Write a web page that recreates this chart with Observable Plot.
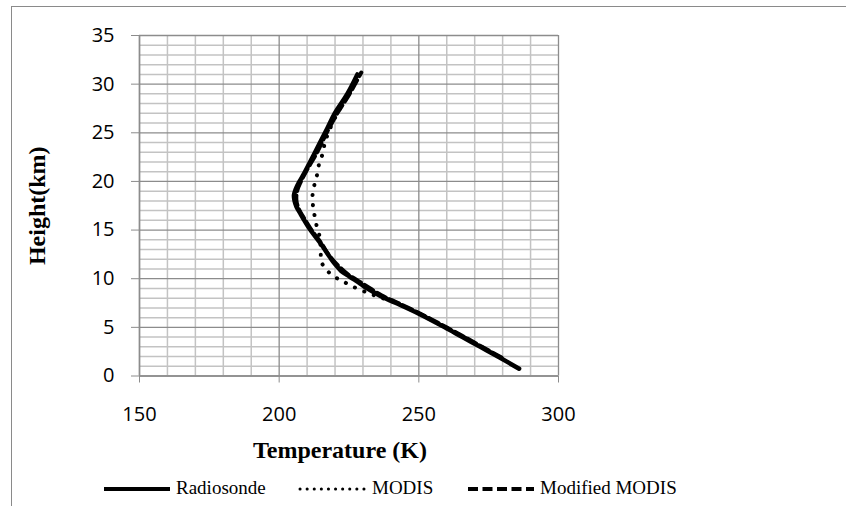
<!DOCTYPE html>
<html>
<head>
<meta charset="utf-8">
<script src="https://cdn.jsdelivr.net/npm/d3@7"></script>
<script src="https://cdn.jsdelivr.net/npm/@observablehq/plot@0.6"></script>
<style>
  html, body { margin: 0; padding: 0; background: #fff; width: 846px; height: 506px; overflow: hidden; }
  #frame { position: absolute; left: 11px; top: 6px; width: 900px; height: 600px;
           border-left: 1px solid #8a8a8a; border-top: 1px solid #8a8a8a; }
  #chart { position: absolute; left: 0; top: 0; }
  #legend { position: absolute; left: 0; top: 475px; }
</style>
</head>
<body>
<div id="frame"></div>
<div id="chart"></div>
<div id="legend"></div>
<script>
// Axis ticks
const xTicks = [150, 200, 250, 300];
const yTicks = [0, 5, 10, 15, 20, 25, 30, 35];

// Radiosonde profile
const radioHeight = [0.75, 2.0, 3.0, 4.0, 5.0, 6.4, 7.5, 8.2, 9.0, 9.5, 10.2, 10.8, 11.5, 12.2, 13.6, 15.0, 16.0, 16.7, 17.4, 18.0, 18.6, 19.2, 20.0, 20.8, 22.8, 25.5, 27.0, 29.0, 31.0];
const radioTemp   = [285.9, 278.3, 272.0, 265.6, 259.3, 250.0, 241.8, 236.4, 231.5, 229.0, 225.3, 222.2, 220.0, 218.2, 214.9, 211.2, 209.0, 207.6, 206.2, 205.5, 205.3, 205.9, 207.3, 208.9, 212.5, 217.3, 219.9, 224.4, 228.0];

// MODIS retrieval
const modisHeight = [1.9, 3.0, 4.0, 5.0, 6.4, 7.5, 7.9, 8.3, 8.7, 9.3, 9.8, 10.3, 11.0, 11.8, 12.6, 13.4, 14.2, 15.2, 16.3, 17.3, 18.4, 19.5, 20.6, 21.8, 22.8, 23.9, 25.0, 27.0, 29.0, 31.0];
const modisTemp   = [279.2, 272.4, 266.2, 259.6, 250.2, 242.0, 238.0, 234.0, 230.4, 225.6, 222.4, 219.2, 216.7, 215.0, 214.9, 214.8, 214.6, 213.6, 212.8, 212.2, 211.9, 212.5, 213.5, 214.3, 215.5, 216.3, 217.6, 220.8, 225.0, 228.4];

// Modified MODIS retrieval
const modHeight = [1.9, 3.0, 4.0, 5.0, 6.4, 7.5, 8.3, 9.5, 10.5, 11.5, 12.5, 13.6, 15.0, 16.0, 17.0, 18.0, 19.0, 20.0, 21.0, 23.0, 25.0, 27.0, 29.0, 31.2];
const modTemp   = [279.6, 272.6, 266.4, 259.9, 250.6, 242.6, 236.6, 229.9, 224.4, 220.6, 217.6, 215.2, 211.6, 209.4, 207.3, 206.2, 206.4, 207.8, 209.6, 213.6, 217.0, 220.8, 225.2, 229.4];

const seriesNames = ["Radiosonde", "MODIS", "Modified MODIS"];

const toRows = (hs, ts) => hs.map((h, i) => ({h, t: ts[i]}));
const radiosonde = toRows(radioHeight, radioTemp);
const modis = toRows(modisHeight, modisTemp);
const modified = toRows(modHeight, modTemp);

const serif = "'Liberation Serif', 'Times New Roman', serif";
const gridMinor = "#c3c3c3";
const gridMajor = "#8c8c8c";

const xMinor = d3.range(xTicks[0], xTicks[xTicks.length - 1] + 1, 10).filter(v => !xTicks.includes(v));
const yMinor = d3.range(yTicks[0], yTicks[yTicks.length - 1] + 1, 1).filter(v => !yTicks.includes(v));

const chart = Plot.plot({
  width: 846,
  height: 470,
  marginLeft: 139,
  marginRight: 288,
  marginTop: 35,
  marginBottom: 94.5,
  style: {background: "transparent", fontFamily: "'Open Sans', sans-serif", fontSize: "20px", color: "#000", overflow: "visible"},
  x: {domain: [150, 300]},
  y: {domain: [0, 35]},
  marks: [
    Plot.gridX(xMinor, {stroke: gridMinor, strokeOpacity: 1, strokeWidth: 1.5}),
    Plot.gridY(yMinor, {stroke: gridMinor, strokeOpacity: 1, strokeWidth: 1.5}),
    Plot.gridX(xTicks, {stroke: gridMajor, strokeOpacity: 1, strokeWidth: 1.3}),
    Plot.gridY(yTicks, {stroke: gridMajor, strokeOpacity: 1, strokeWidth: 1.3}),
    Plot.axisX(xTicks, {tickSize: 7, tickPadding: 24, stroke: gridMajor, fontSize: 20, tickFormat: d => d, label: null}),
    Plot.axisY(yTicks, {tickSize: 8, tickPadding: 17, stroke: gridMajor, fontSize: 20, tickFormat: d => d, label: null}),
    Plot.ruleX([150], {stroke: gridMajor, strokeWidth: 1.5}),
    Plot.ruleY([0], {stroke: gridMajor, strokeWidth: 1.5}),
    Plot.line(radiosonde, {x: "t", y: "h", stroke: "#000", strokeWidth: 4.5, curve: "catmull-rom"}),
    Plot.line(modis, {x: "t", y: "h", stroke: "#000", strokeWidth: 4, strokeDasharray: "0.1 10", strokeLinecap: "round", curve: "catmull-rom"}),
    Plot.line(modified, {x: "t", y: "h", stroke: "#000", strokeWidth: 4, strokeDasharray: "10 4.5", curve: "catmull-rom"}),
    Plot.text(["Height(km)"], {text: d => d, frameAnchor: "left", textAnchor: "middle", lineAnchor: "middle", dx: -102, rotate: -90, fontFamily: serif, fontWeight: "bold", fontSize: 24, fill: "#000"}),
    Plot.text(["Temperature (K)"], {text: d => d, frameAnchor: "bottom", textAnchor: "middle", lineAnchor: "middle", dx: -9, dy: 74, fontFamily: serif, fontWeight: "bold", fontSize: 24, fill: "#000"})
  ]
});
document.getElementById("chart").appendChild(chart);

// Legend row below the plot
const legendItems = [
  {name: seriesNames[0], x: 104, dash: null, width: 4, cap: "butt"},
  {name: seriesNames[1], x: 300, dash: "0.1 7", width: 3, cap: "round"},
  {name: seriesNames[2], x: 468, dash: "10 4.5", width: 4, cap: "butt"}
];
const lg = d3.select("#legend").append("svg").attr("width", 846).attr("height", 30);
const items = lg.selectAll("g").data(legendItems).join("g").attr("transform", d => `translate(${d.x},0)`);
items.append("line")
  .attr("x1", 0).attr("x2", 66).attr("y1", 14).attr("y2", 14)
  .attr("stroke", "#000").attr("stroke-width", d => d.width)
  .attr("stroke-linecap", d => d.cap)
  .attr("stroke-dasharray", d => d.dash);
items.append("text")
  .attr("x", 72).attr("y", 18.5)
  .attr("font-family", serif).attr("font-size", 19).attr("fill", "#000")
  .text(d => d.name);
</script>
</body>
</html>
